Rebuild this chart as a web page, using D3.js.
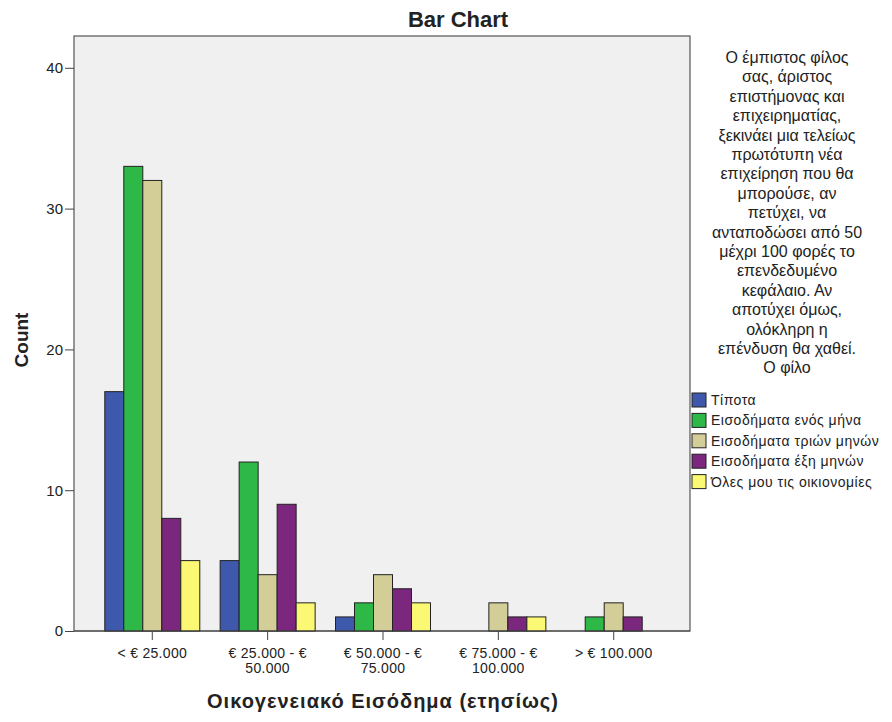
<html>
<head>
<meta charset="utf-8">
<script src="https://d3js.org/d3.v7.min.js"></script>
<style>
  body { margin: 0; background: #fff; font-family: "Liberation Sans", Arial, sans-serif; }
  .axis text { font-size: 15px; fill: #222; }
  .axis path, .axis line { stroke: #444; }
</style>
</head>
<body>
<svg width="892" height="722"></svg>
<script>
// categories on the x axis
var categories = ["< € 25.000", "€ 25.000 - € 50.000", "€ 50.000 - € 75.000", "€ 75.000 - € 100.000", "> € 100.000"];
var categoryLines = [["< € 25.000"], ["€ 25.000 - €", "50.000"], ["€ 50.000 - €", "75.000"], ["€ 75.000 - €", "100.000"], ["> € 100.000"]];

// series (answer options)
var seriesNames = ["Τίποτα", "Εισοδήματα ενός μήνα", "Εισοδήματα τριών μηνών", "Εισοδήματα έξη μηνών", "Όλες μου τις οικιονομίες"];
var seriesColors = ["#3e58ac", "#2eb848", "#d3ce97", "#7b277d", "#fbf873"];

// counts per series, one per category
var tipota   = [17, 5, 1, 0, 0];
var enosMina = [33, 12, 2, 0, 1];
var trionMin = [32, 4, 4, 2, 2];
var exiMin   = [8, 9, 3, 1, 1];
var oles     = [5, 2, 2, 1, 0];
var seriesValues = [tipota, enosMina, trionMin, exiMin, oles];

var yTicks = [0, 10, 20, 30, 40];

var noteLines = ["Ο έμπιστος φίλος", "σας, άριστος", "επιστήμονας και", "επιχειρηματίας,",
  "ξεκινάει μια τελείως", "πρωτότυπη νέα", "επιχείρηση που θα", "μπορούσε, αν",
  "πετύχει, να", "ανταποδώσει από 50", "μέχρι 100 φορές το", "επενδεδυμένο",
  "κεφάλαιο. Αν", "αποτύχει όμως,", "ολόκληρη η", "επένδυση θα χαθεί.", "Ο φίλο"];

var plotL = 74, plotR = 690, plotT = 36, plotB = 631;
var svg = d3.select("svg");

var x = d3.scaleBand().domain(categories).range([plotL + 1, plotR + 1]).paddingOuter(0.17).paddingInner(0);
var inner = d3.scaleBand().domain(seriesNames).range([0, 95]);
var y = d3.scaleLinear().domain([0, 40]).range([plotB, plotB - 40 * 14.08]);

// plot background + frame
svg.append("rect")
  .attr("x", plotL).attr("y", plotT)
  .attr("width", plotR - plotL).attr("height", plotB - plotT)
  .attr("fill", "#f0f0f0").attr("stroke", "#555").attr("stroke-width", 1.2);

// bars
var rows = [];
categories.forEach(function(c, i) {
  seriesNames.forEach(function(s, j) {
    rows.push({ cat: c, series: s, value: seriesValues[j][i], color: seriesColors[j] });
  });
});

svg.append("g").selectAll("rect")
  .data(rows.filter(function(d) { return d.value > 0; }))
  .enter().append("rect")
  .attr("x", function(d) { return x(d.cat) + x.bandwidth() / 2 - 47.5 + inner(d.series); })
  .attr("width", inner.bandwidth())
  .attr("y", function(d) { return y(d.value); })
  .attr("height", function(d) { return plotB - y(d.value); })
  .attr("fill", function(d) { return d.color; })
  .attr("stroke", "#222").attr("stroke-width", 1);

// y axis
var yAxis = svg.append("g").attr("class", "axis")
  .attr("transform", "translate(" + plotL + ",0)")
  .call(d3.axisLeft(y).tickValues(yTicks).tickSize(9).tickPadding(2));
yAxis.select(".domain").remove();

// x axis
var xAxis = svg.append("g").attr("class", "axis")
  .attr("transform", "translate(0," + plotB + ")")
  .call(d3.axisBottom(x).tickSize(9).tickSizeOuter(0).tickFormat(""));
xAxis.select(".domain").attr("d", "M" + plotL + ",0H" + plotR);

xAxis.selectAll(".tick").each(function(d, i) {
  var t = d3.select(this).append("text")
    .attr("y", 27).attr("text-anchor", "middle").style("font-size", "14px").style("letter-spacing", "0.3px")
    .attr("fill", "#222");
  categoryLines[i].forEach(function(line, k) {
    t.append("tspan").attr("x", 0).attr("dy", k === 0 ? 0 : 15).text(line);
  });
});

// title
svg.append("text").attr("x", 458).attr("y", 27).attr("text-anchor", "middle")
  .style("font-size", "22px").style("font-weight", "bold").attr("fill", "#222").text("Bar Chart");

// axis titles
svg.append("text").attr("transform", "translate(28,340) rotate(-90)").attr("text-anchor", "middle")
  .style("font-size", "19px").style("font-weight", "bold").attr("fill", "#222").text("Count");
svg.append("text").attr("x", 383).attr("y", 708).attr("text-anchor", "middle")
  .style("font-size", "20px").style("font-weight", "bold").style("letter-spacing", "1px")
  .attr("fill", "#222").text("Οικογενειακό Εισόδημα (ετησίως)");

// note text
svg.append("g").selectAll("text").data(noteLines).enter().append("text")
  .attr("x", 787).attr("y", function(d, i) { return 63 + i * 19.4; })
  .attr("text-anchor", "middle").style("font-size", "16px").attr("fill", "#222")
  .text(function(d) { return d; });

// legend
var legend = svg.append("g").selectAll("g").data(seriesNames).enter().append("g")
  .attr("transform", function(d, i) { return "translate(692," + (393 + i * 20.4) + ")"; });
legend.append("rect").attr("width", 14).attr("height", 14)
  .attr("fill", function(d, i) { return seriesColors[i]; }).attr("stroke", "#222");
legend.append("text").attr("x", 19).attr("y", 12).style("font-size", "14px").style("letter-spacing", "0.5px")
  .attr("fill", "#222")
  .text(function(d) { return d; });
</script>
</body>
</html>
